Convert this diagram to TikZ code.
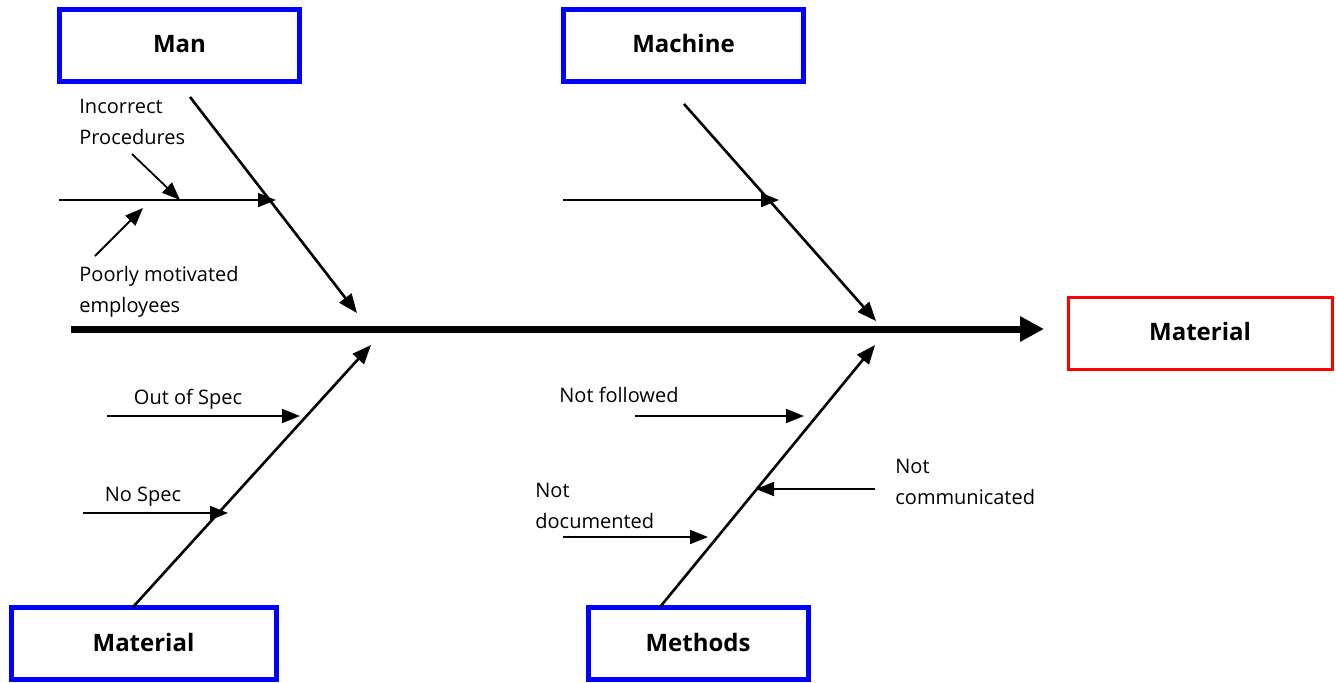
\documentclass[tikz,border=0pt]{standalone}
\usepackage{fontspec}
\setmainfont{Open Sans}
\usetikzlibrary{arrows.meta}
\begin{document}
\begin{tikzpicture}[x=0.5pt,y=-0.5pt,
  catbox/.style={draw=blue, line width=2.5pt, minimum width=120pt, minimum height=36pt, inner sep=0pt, font=\bfseries\fontsize{12}{14}\selectfont},
  effbox/.style={draw=red, line width=1.5pt, minimum width=132pt, minimum height=36pt, inner sep=0pt, font=\bfseries\fontsize{12}{14}\selectfont},
  lbl/.style={font=\fontsize{10}{15.5}\selectfont, inner sep=0pt, align=left},
  bone/.style={line width=1.3pt, -{Triangle[length=9.5pt,width=7.5pt]}},
  sub/.style={line width=0.9pt, -{Triangle[length=9pt,width=7pt]}},
  spine/.style={line width=3.5pt, -{Triangle[length=12pt,width=12pt]}}]
\useasboundingbox (0,0) rectangle (1336,682);
% category boxes
\node[catbox] (man) at (179.5,45) {\raisebox{1.5pt}{Man}};
\node[catbox] (machine) at (683.5,45) {\raisebox{1.5pt}{Machine}};
\node[catbox, minimum width=132.5pt] (material) at (143.5,643) {\raisebox{1pt}{Material}};
\node[catbox, minimum width=110pt] (methods) at (698,643) {\raisebox{1pt}{Methods}};
\node[effbox] (effect) at (1200,333) {\raisebox{2pt}{Material}};
% spine
\coordinate (spS) at (71,329);
\coordinate (spE) at (1044,329);
\draw[spine] (spS) -- (spE);
% bones
\coordinate (manS) at (190,97);   \coordinate (manE) at (357,313);
\coordinate (macS) at (684,104);  \coordinate (macE) at (876,321);
\coordinate (matS) at (133,607);  \coordinate (matE) at (371,345);
\coordinate (metS) at (660,607);  \coordinate (metE) at (875,345);
\draw[bone] (manS) -- (manE);
\draw[bone] (macS) -- (macE);
\draw[bone] (matS) -- (matE);
\draw[bone] (metS) -- (metE);
% Man causes
\coordinate (m1S) at (59,200);  \coordinate (m1E) at (276,200);
\draw[sub] (m1S) -- (m1E);
\coordinate (icS) at (132,154); \coordinate (icE) at (180,200);
\draw[sub] (icS) -- (icE);
\coordinate (pmS) at (95,256); \coordinate (pmE) at (143,208);
\draw[sub] (pmS) -- (pmE);
\node[lbl, anchor=north west] (inc) at (79,99) {Incorrect\\Procedures};
\node[lbl, anchor=north west] (poor) at (79,266) {Poorly motivated\\employees};
% Machine cause
\coordinate (c1S) at (563,200); \coordinate (c1E) at (779,200);
\draw[sub] (c1S) -- (c1E);
% Material causes
\coordinate (osS) at (107,416); \coordinate (osE) at (300,416);
\draw[sub] (osS) -- (osE);
\node[lbl] (os) at (188,399) {Out of Spec};
\coordinate (nsS) at (83,513); \coordinate (nsE) at (228,513);
\draw[sub] (nsS) -- (nsE);
\node[lbl] (ns) at (143,497) {No Spec};
% Methods causes
\coordinate (nfS) at (635,416); \coordinate (nfE) at (804,416);
\draw[sub] (nfS) -- (nfE);
\node[lbl, anchor=west] (nf) at (559,395) {Not followed};
\coordinate (ndS) at (563,537); \coordinate (ndE) at (708,537);
\draw[sub] (ndS) -- (ndE);
\node[lbl, anchor=north west] (nd) at (535,483) {Not\\documented};
\coordinate (ncS) at (875,489); \coordinate (ncE) at (756,489);
\draw[sub] (ncS) -- (ncE);
\node[lbl, anchor=north west] (nc) at (895,459) {Not\\communicated};
\end{tikzpicture}
\end{document}
